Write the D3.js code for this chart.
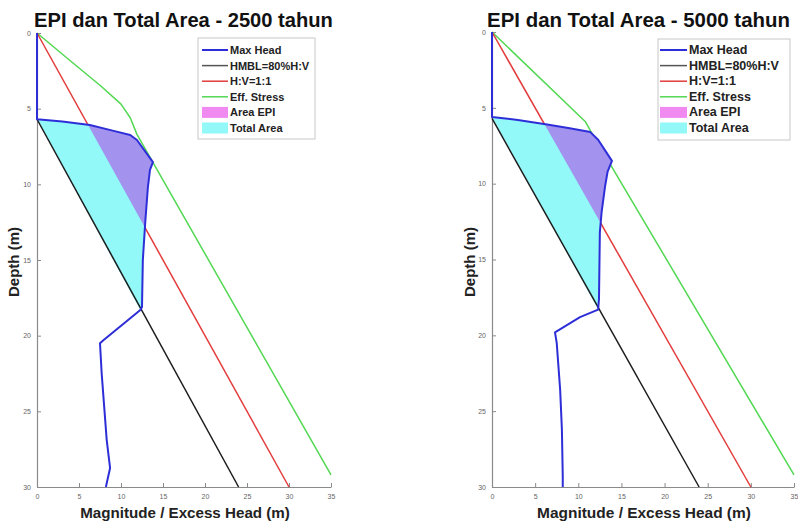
<!DOCTYPE html>
<html><head><meta charset="utf-8">
<script src="https://cdn.jsdelivr.net/npm/d3@7"></script>
<style>
body{margin:0;background:#fff}
svg{display:block}
text{font-family:"Liberation Sans",Arial,Helvetica,sans-serif}
</style>
</head><body>
<svg id="chart" width="798" height="524"></svg>
<script>
// ---------- data ----------
const xTicks = [0, 5, 10, 15, 20, 25, 30, 35];
const yTicks = [0, 5, 10, 15, 20, 25, 30];
const titles = ["EPI dan Total Area - 2500 tahun", "EPI dan Total Area - 5000 tahun"];
const legendLabels = ["Max Head", "HMBL=80%H:V", "H:V=1:1", "Eff. Stress", "Area EPI", "Total Area"];
const xLabel = "Magnitude / Excess Head (m)";
const yLabel = "Depth (m)";

// Max Head (2500 tahun)
const maxHead2500Head  = [0, 0,   3,    6.3,  9,    11.1, 11.9, 13.8, 13.45, 13.2, 12.9, 12.6, 12.5, 12.3, 7.9,  7.5,  7.7,  8.3,  8.7,   8.2];
const maxHead2500Depth = [0, 5.7, 5.85, 6.08, 6.45, 6.74, 7.07, 8.53, 9.05,  10.2, 12.4, 15.0, 18.1, 18.3, 20.3, 20.5, 22.5, 26.9, 28.75, 30];
// Max Head (5000 tahun)
const maxHead5000Head  = [0, 0,   3,    6.4, 9,    11.4, 12.3, 13.9, 13.4, 13.1, 12.7, 12.5, 12.4, 12.3, 10.2, 7.3,  7.5,  7.9,  8.1,  8.2,  8.2];
const maxHead5000Depth = [0, 5.6, 5.8,  6.1, 6.35, 6.6,  7.1,  8.5,  9.2,  10.2, 11.9, 13.2, 17.6, 18.3, 18.8, 19.8, 20.5, 23.6, 26.2, 29.3, 30];
// Area limits (top / bottom of the Total Area along Max Head)
const areaDepthRange2500 = [5.7, 18.3];
const areaDepthRange5000 = [5.6, 18.3];
// HMBL = 80% H:V
const hmblHead  = [0, 24];
const hmblDepth = [5.7, 30];
// H:V = 1:1
const hvHead  = [0, 30];
const hvDepth = [0, 30];
// Eff. Stress
const eff2500Head  = [0, 4.1, 7.6, 10.0, 11.1, 11.9, 35];
const eff2500Depth = [0, 1.9, 3.5, 4.7,  5.6,  6.7,  29.2];
const eff5000Head  = [0, 10.8, 11.6, 35];
const eff5000Depth = [0, 5.9,  6.7,  29.2];

// ---------- styles ----------
const C = {blue:"#2e2ed8", black:"#1c1c1c", red:"#e23c3c", green:"#52d852",
           cyan:"#92f8f8", purple:"#a393ef", magenta:"#f08af0", axis:"#8a8a8a", tick:"#666"};

const panels = [
  {title:titles[0], mhH:maxHead2500Head, mhD:maxHead2500Depth, rng:areaDepthRange2500,
   effH:eff2500Head, effD:eff2500Depth,
   x0:37, x1:331, y0:33, y1:487, tCx:183.5, tW:299, ylx:14, xlCx:185, xlW:210,
   lg:{x:198, y:38, w:117, h:101, lx0:202, lx1:228, tx:230, fs:11, fw:84}},
  {title:titles[1], mhH:maxHead5000Head, mhD:maxHead5000Depth, rng:areaDepthRange5000,
   effH:eff5000Head, effD:eff5000Depth,
   x0:492, x1:794, y0:32, y1:487, tCx:638.5, tW:303, ylx:470, xlCx:644, xlW:214,
   lg:{x:658, y:39, w:132, h:101, lx0:660, lx1:687, tx:689, fs:12.5, fw:99}}
];

const svg = d3.select("#chart");

function fitWidth(sel, target){
  const w = sel.node().getComputedTextLength();
  const fs = parseFloat(sel.attr("font-size"));
  sel.attr("font-size", fs * target / w);
}

panels.forEach((p, pi) => {
  const x = d3.scaleLinear().domain([0, 35]).range([p.x0, p.x1]);
  const y = d3.scaleLinear().domain([0, 30]).range([p.y0, p.y1]);
  const g = svg.append("g");
  const clipId = "clip" + pi;
  g.append("clipPath").attr("id", clipId).append("rect")
    .attr("x", p.x0 - 3).attr("y", p.y0 - 3).attr("width", p.x1 - p.x0 + 4).attr("height", p.y1 - p.y0 + 4);

  // axes
  const xAxis = d3.axisBottom(x).tickValues(xTicks).tickSize(-4).tickPadding(7).tickSizeOuter(0);
  const yAxis = d3.axisLeft(y).tickValues(yTicks).tickSize(-4).tickPadding(6).tickSizeOuter(0);
  const gx = g.append("g").attr("transform", `translate(0,${p.y1})`).call(xAxis);
  const gy = g.append("g").attr("transform", `translate(${p.x0},0)`).call(yAxis);
  [gx, gy].forEach(a => {
    a.select(".domain").attr("stroke", C.axis).attr("stroke-width", 1.2);
    a.selectAll(".tick line").attr("stroke", C.axis);
    a.selectAll(".tick text").attr("fill", C.tick).attr("font-size", 7)
      .attr("font-family", "Liberation Sans, Arial, sans-serif");
  });

  const line = d3.line().x(d => x(d[0])).y(d => y(d[1]));
  const zip = (a, b) => a.map((v, i) => [v, b[i]]);
  const plot = g.append("g").attr("clip-path", `url(#${clipId})`);

  const mh = zip(p.mhH, p.mhD);
  // Total area polygon: Max Head between area depth range, closed along HMBL
  const i0 = mh.findIndex(d => d[1] === p.rng[0]);
  const i1 = mh.findIndex(d => d[1] === p.rng[1]);
  const total = mh.slice(i0, i1 + 1);
  // EPI area: part of Max Head to the right of H:V = 1:1
  const epi = [];
  for (let i = i0; i < i1; i++) {
    const a = mh[i], b = mh[i + 1];
    const fa = a[0] - a[1], fb = b[0] - b[1];
    if (fa >= 0) epi.push(a);
    if ((fa < 0 && fb >= 0) || (fa >= 0 && fb < 0)) {
      const t = fa / (fa - fb);
      epi.push([a[0] + t * (b[0] - a[0]), a[1] + t * (b[1] - a[1])]);
    }
  }

  plot.append("path").attr("d", line(zip(p.effH, p.effD))).attr("fill", "none")
    .attr("stroke", C.green).attr("stroke-width", 1.5).attr("stroke-linejoin", "round");
  plot.append("path").attr("d", line(zip(hvHead, hvDepth))).attr("fill", "none")
    .attr("stroke", C.red).attr("stroke-width", 1.5);
  plot.append("path").attr("d", line(total) + "Z").attr("fill", C.cyan);
  plot.append("path").attr("d", line(epi) + "Z").attr("fill", C.purple);
  plot.append("path").attr("d", line(zip(hmblHead, hmblDepth))).attr("fill", "none")
    .attr("stroke", C.black).attr("stroke-width", 1.5);
  plot.append("path").attr("d", line(mh)).attr("fill", "none")
    .attr("stroke", C.blue).attr("stroke-width", 2).attr("stroke-linejoin", "round");

  // title
  const t = g.append("text").text(p.title).attr("x", p.tCx).attr("y", 27)
    .attr("text-anchor", "middle").attr("font-weight", "bold").attr("font-size", 19).attr("fill", "#111");
  fitWidth(t, p.tW);
  // axis labels
  const xl = g.append("text").text(xLabel).attr("x", p.xlCx).attr("y", 518)
    .attr("text-anchor", "middle").attr("font-weight", "bold").attr("font-size", 15).attr("fill", "#222");
  fitWidth(xl, p.xlW);
  g.append("text").text(yLabel).attr("transform", `translate(${p.ylx + 5},262) rotate(-90)`)
    .attr("text-anchor", "middle").attr("font-weight", "bold").attr("font-size", 15).attr("fill", "#222");

  // legend
  const L = p.lg;
  const lg = g.append("g");
  lg.append("rect").attr("x", L.x).attr("y", L.y).attr("width", L.w).attr("height", L.h)
    .attr("fill", "#fff").attr("stroke", "#c8c8c8");
  const kinds = [["line", C.blue, 2], ["line", "#555", 1.5], ["line", C.red, 1.5], ["line", C.green, 1.5],
                 ["patch", C.magenta], ["patch", C.cyan]];
  legendLabels.forEach((lab, i) => {
    const cy = 50 + i * 15.6;
    const k = kinds[i];
    if (k[0] === "line") {
      lg.append("line").attr("x1", L.lx0).attr("x2", L.lx1).attr("y1", cy).attr("y2", cy)
        .attr("stroke", k[1]).attr("stroke-width", k[2]);
    } else {
      lg.append("rect").attr("x", L.lx0).attr("y", cy - 5.5).attr("width", L.lx1 - L.lx0).attr("height", 11)
        .attr("fill", k[1]);
    }
    lg.append("text").text(lab).attr("x", L.tx).attr("y", cy + 4).attr("font-size", L.fs)
      .attr("font-weight", "bold").attr("fill", "#222");
  });
});
</script>
</body></html>
